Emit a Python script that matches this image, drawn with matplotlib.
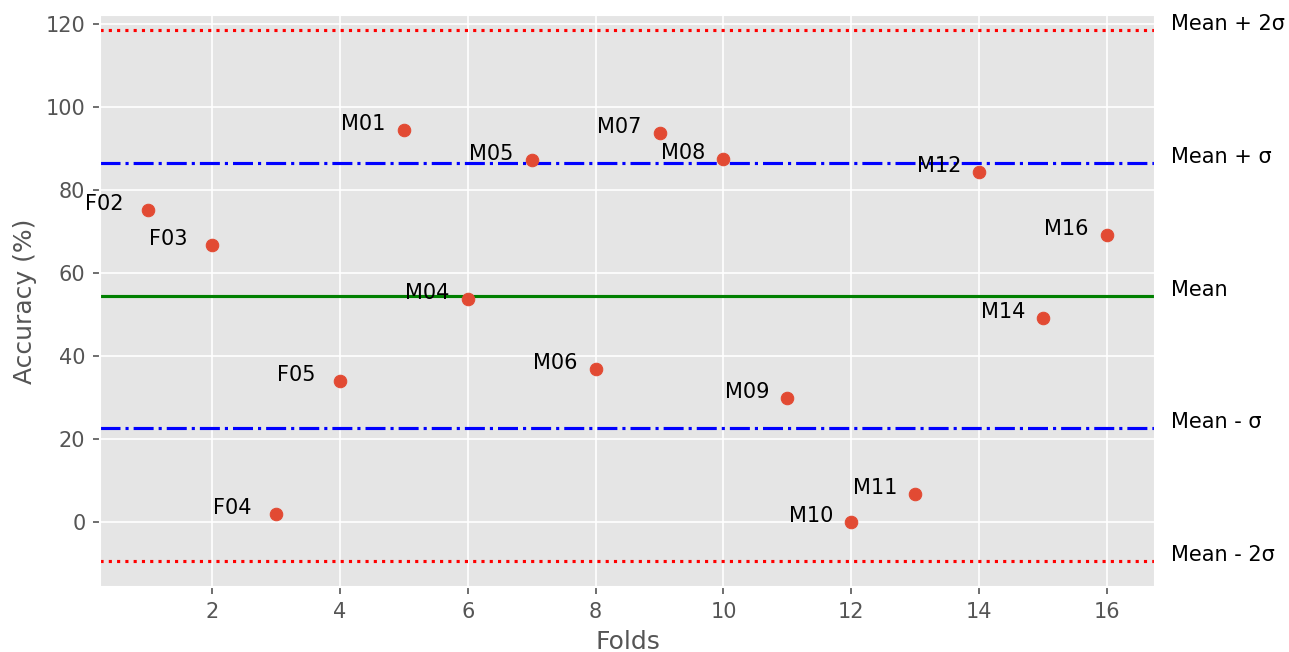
import numpy as np
import matplotlib
matplotlib.use('Agg')
import matplotlib.pyplot as plt

plt.style.use('ggplot')

folds = list(range(1, 17))
names = ['F02', 'F03', 'F04', 'F05', 'M01', 'M04', 'M05', 'M06',
         'M07', 'M08', 'M09', 'M10', 'M11', 'M12', 'M14', 'M16']
acc = [75.2, 66.9, 1.9, 34.0, 94.4, 53.9, 87.2, 37.0,
       93.7, 87.6, 30.0, 0.1, 6.7, 84.3, 49.1, 69.3]

mean = 54.6
sigma = 32.0
ref_names = ['Mean + 2σ', 'Mean + σ', 'Mean', 'Mean - σ', 'Mean - 2σ']
ref_vals = [mean + 2 * sigma, mean + sigma, mean, mean - sigma, mean - 2 * sigma]
ref_styles = [('red', ':'), ('blue', '-.'), ('green', '-'), ('blue', '-.'), ('red', ':')]

fig = plt.figure(figsize=(1289 / 150, 652 / 150), dpi=150)
ax = fig.add_axes([0.0776, 0.0997, 0.8185, 0.8773])

ax.scatter(folds, acc, color='#E24A33', zorder=3)
for x, y, n in zip(folds, acc, names):
    ax.text(x - 0.98, y, n, color='black', fontsize=10)

for v, (c, ls) in zip(ref_vals, ref_styles):
    ax.axhline(v, color=c, linestyle=ls, linewidth=1.5)

ax.set_xlim(0.25, 16.75)
ax.set_ylim(-15.6, 122.2)
ax.set_xticks(range(2, 17, 2))
ax.set_yticks(range(0, 121, 20))

for v, n in zip(ref_vals, ref_names):
    ax.text(17.0, v, n, color='black', fontsize=10)

ax.set_xlabel('Folds')
ax.set_ylabel('Accuracy (%)')

fig.savefig('out.png', dpi=150)
